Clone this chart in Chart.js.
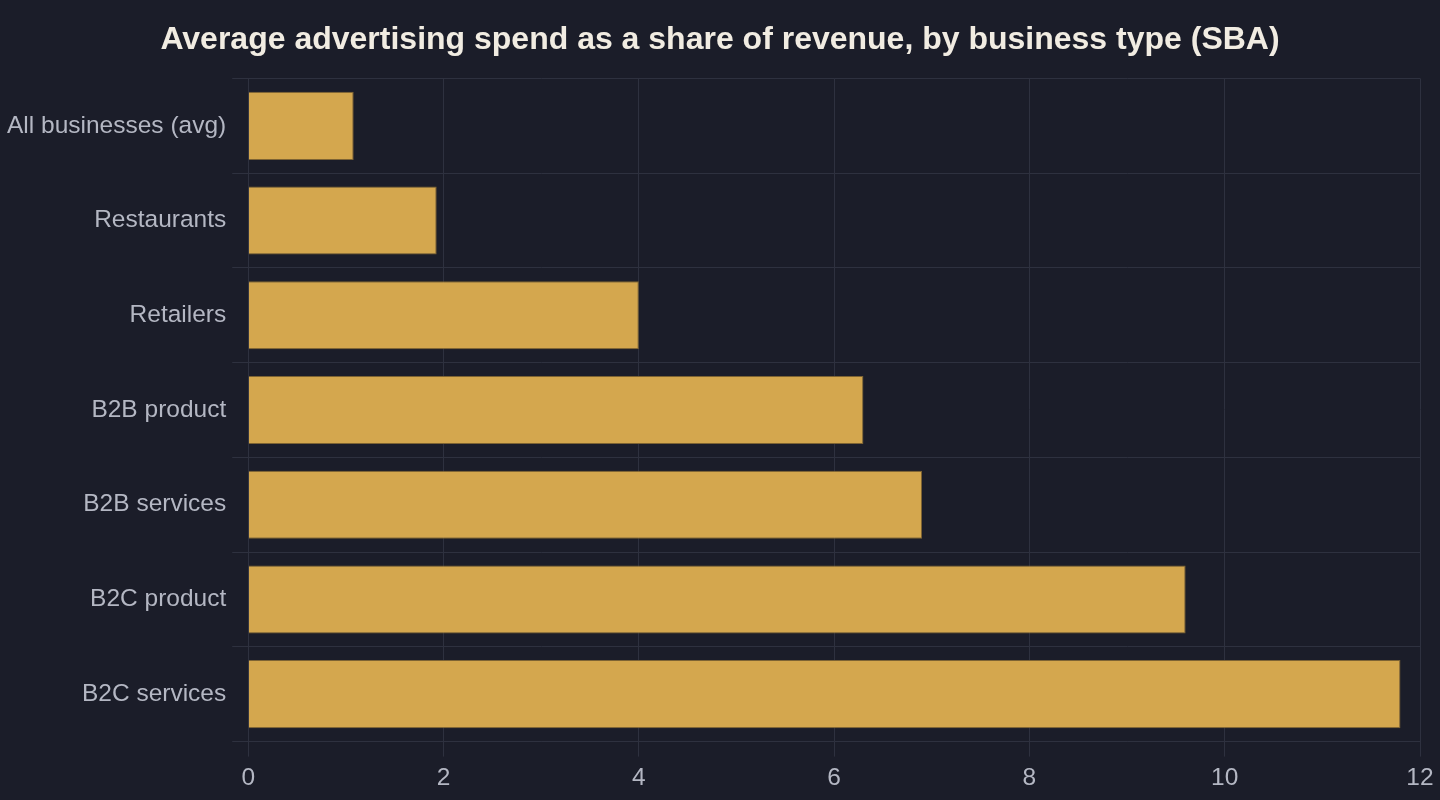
<!DOCTYPE html>
<html>
<head>
<meta charset="utf-8">
<script src="https://cdn.jsdelivr.net/npm/chart.js@4"></script>
<style>
  html, body { margin: 0; padding: 0; background: #1b1d29; }
  #wrap { width: 1440px; height: 800px; }
</style>
</head>
<body>
<div id="wrap"><canvas id="adChart"></canvas></div>
<script>
// Data (percent of revenue spent on advertising)
const categories = [
  "All businesses (avg)",
  "Restaurants",
  "Retailers",
  "B2B product",
  "B2B services",
  "B2C product",
  "B2C services",
]
const spendShare = [1.08, 1.93, 4.0, 6.3, 6.9, 9.6, 11.8]
const xTicks = [0, 2, 4, 6, 8, 10, 12]

const gridColor = "#2e313f"
const tickColor = "#b4b7c3"

Chart.defaults.font.family = "'Liberation Sans', Arial, sans-serif"

const ctx = document.getElementById("adChart").getContext("2d")
new Chart(ctx, {
  type: "bar",
  data: {
    labels: categories,
    datasets: [
      {
        data: spendShare,
        backgroundColor: "#d4a74e",
        borderColor: "#7d6333",
        borderWidth: 1,
        barPercentage: 0.9,
        categoryPercentage: 0.8,
      },
    ],
  },
  options: {
    indexAxis: "y",
    responsive: true,
    maintainAspectRatio: false,
    animation: false,
    // symmetric so the title sits in the middle of the canvas
    layout: { padding: { left: 5, right: 5, top: 0, bottom: 0 } },
    plugins: {
      legend: { display: false },
      tooltip: { enabled: false },
      title: {
        display: true,
        text: "Average advertising spend as a share of revenue, by business type (SBA)",
        color: "#f1ece2",
        font: { size: 32, weight: "bold" },
        padding: { top: 21, bottom: 19 },
      },
    },
    scales: {
      x: {
        min: xTicks[0],
        max: xTicks[xTicks.length - 1],
        afterBuildTicks: (axis) => {
          axis.ticks = xTicks.map((v) => ({ value: v }))
        },
        afterFit: (axis) => {
          axis.paddingRight = 20
        },
        grid: { color: gridColor, tickLength: 15 },
        border: { color: gridColor },
        ticks: { color: tickColor, font: { size: 24.5 }, padding: 7 },
      },
      y: {
        afterFit: (axis) => {
          axis.width -= 4
        },
        grid: { color: gridColor, tickLength: 16, offset: true },
        border: { color: gridColor },
        ticks: { color: tickColor, font: { size: 24.5 }, padding: 6 },
      },
    },
  },
})
</script>
</body>
</html>
